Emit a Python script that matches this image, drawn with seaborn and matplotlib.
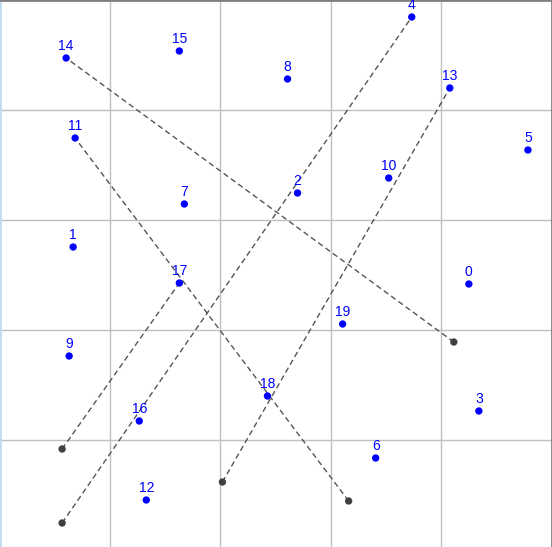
import matplotlib
matplotlib.use("Agg")
import matplotlib.pyplot as plt
import seaborn as sns
import pandas as pd

# Labelled points (pixel-like coordinates, y grows downward)
labels = [str(i) for i in range(20)]
px = [468, 73, 297, 478, 411, 527, 375, 184, 287, 69,
      388, 75, 146, 449, 66, 179, 139, 179, 267, 342]
py = [284, 247, 193, 411, 17, 150, 458, 204, 79, 356,
      178, 138, 500, 88, 58, 51, 421, 283, 396, 324]

# Gray anchor points and the labelled point each one links to
anchor_x = [453, 62, 62, 222, 348]
anchor_y = [342, 449, 523, 482, 501]
linked_to = [14, 17, 4, 13, 11]

grid_ticks = [110, 220, 330, 440]

sns.set_style("white")
plt.rcParams['font.family'] = ['Liberation Sans', 'DejaVu Sans']

fig = plt.figure(figsize=(5.52, 5.47), dpi=100)
ax = fig.add_axes([0, 0, 1, 1])

# dashed links
for gx, gy, k in zip(anchor_x, anchor_y, linked_to):
    ax.plot([gx, px[k]], [gy, py[k]], linestyle=(0, (4, 2.5)),
            color='#555555', linewidth=1, zorder=2)

pts = pd.DataFrame({'x': px, 'y': py, 'label': labels})
anchors = pd.DataFrame({'x': anchor_x, 'y': anchor_y})

sns.scatterplot(data=anchors, x='x', y='y', color='#404040', s=28,
                edgecolor='none', ax=ax, zorder=3)
sns.scatterplot(data=pts, x='x', y='y', color='#0000ff', s=28,
                edgecolor='none', ax=ax, zorder=4)

for _, r in pts.iterrows():
    ax.text(r['x'], r['y'] - 5, r['label'], color='#0000ff', fontsize=10,
            ha='center', va='bottom', zorder=5)

ax.set_xlim(0, 551)
ax.set_ylim(547, 0)
ax.set_xticks(grid_ticks)
ax.set_yticks(grid_ticks)
ax.tick_params(length=0, labelbottom=False, labelleft=False)
ax.grid(True, color='#c0c0c0', linewidth=1)
ax.set_axisbelow(True)
ax.set_xlabel('')
ax.set_ylabel('')

ax.spines['bottom'].set_visible(False)
ax.spines['top'].set_color('#808080')
ax.spines['top'].set_linewidth(2)
ax.spines['right'].set_color('#808080')
ax.spines['right'].set_linewidth(2)
ax.spines['left'].set_color('#c0dcf0')
ax.spines['left'].set_linewidth(2)

plt.savefig('out.png', dpi=100)
plt.close()
